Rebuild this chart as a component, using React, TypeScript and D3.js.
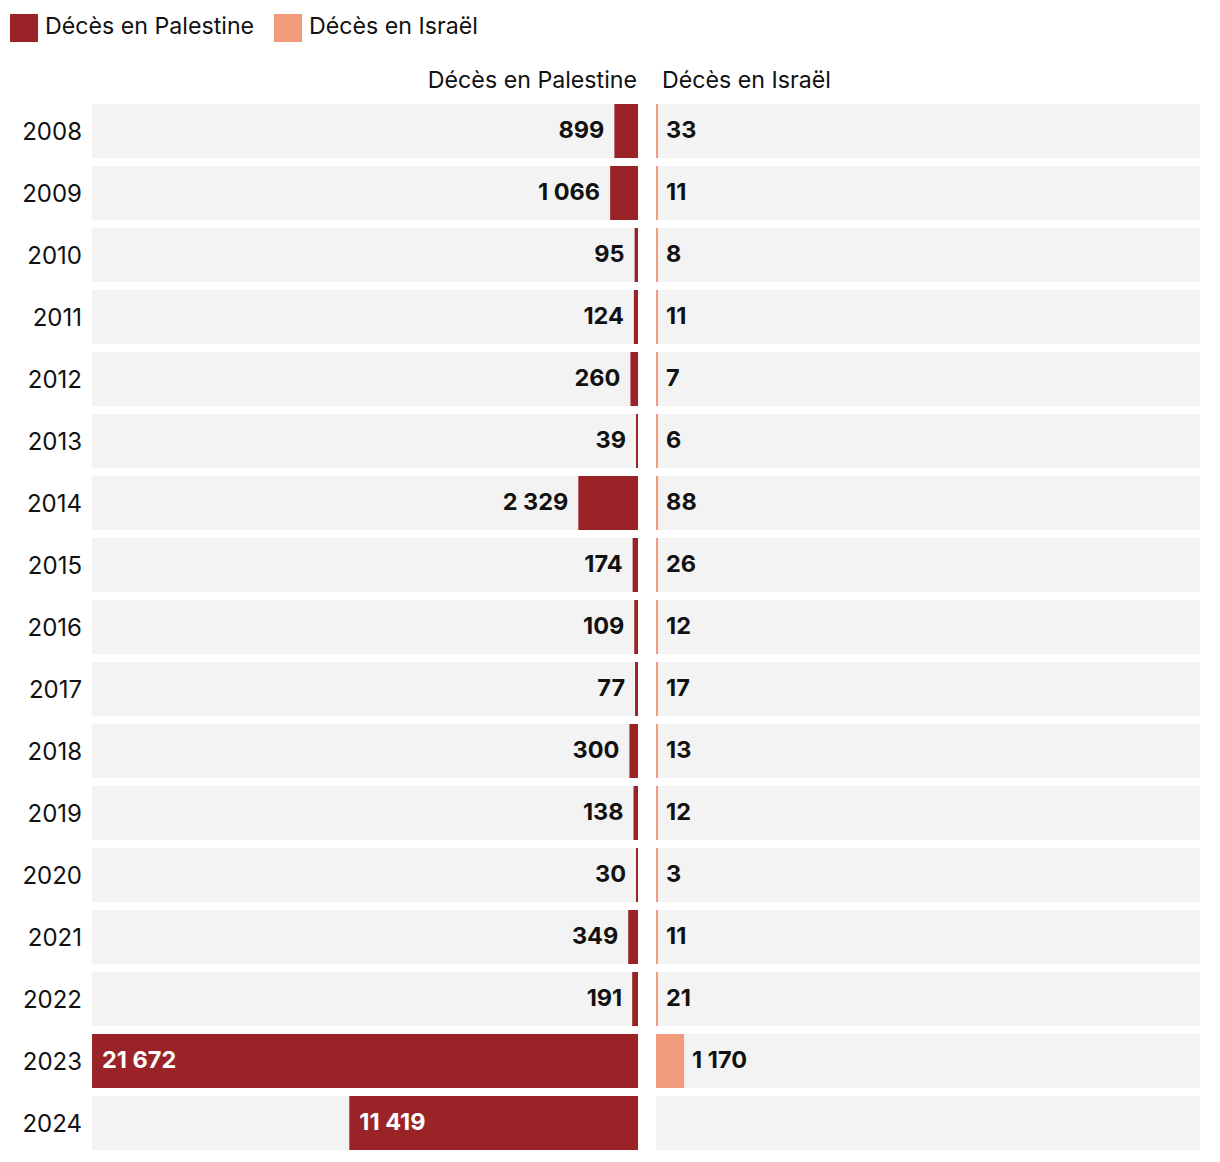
import React from "react";
import * as d3 from "d3";

const years = ["2008","2009","2010","2011","2012","2013","2014","2015","2016","2017","2018","2019","2020","2021","2022","2023","2024"];
const palestine = [899,1066,95,124,260,39,2329,174,109,77,300,138,30,349,191,21672,11419];
const israel: (number | null)[] = [33,11,8,11,7,6,88,26,12,17,13,12,3,11,21,1170,null];
const seriesNames = ["Décès en Palestine","Décès en Israël"];
const colors = ["#9A2328","#F29B7C"];

const W = 1220, H = 1162;
const leftX0 = 92, leftX1 = 638, rightX0 = 656, rightX1 = 1200;
const top = 104, rowH = 54, pitch = 62;
const font = "Inter, 'Noto Sans', sans-serif";

const loc2 = d3.formatLocale({ decimal: ",", thousands: " ", grouping: [3], currency: ["", "€"] });
const fmt = loc2.format(",d");

export default function App() {
  const y = d3.scaleBand<string>().domain(years)
    .range([top, top + pitch * years.length - (pitch - rowH)])
    .paddingInner((pitch - rowH) / pitch).paddingOuter(0);
  const maxV = d3.max(palestine) as number;
  const fullL = leftX1 - leftX0;
  const xl = d3.scaleLinear().domain([0, maxV]).range([0, fullL]);
  const xr = d3.scaleLinear().domain([0, maxV]).range([0, 520]);
  const bw = y.bandwidth();
  return (
    <svg width={W} height={H} style={{ display: "block", position: "absolute", left: 0, top: 0 }} fontFamily={font}>
      <rect width={W} height={H} fill="#fff" />
      <g>
        <rect x={10} y={14} width={28} height={28} fill={colors[0]} />
        <text x={45} y={34} fontSize={23.2} fill="#111">{seriesNames[0]}</text>
        <rect x={274} y={14} width={28} height={28} fill={colors[1]} />
        <text x={309} y={34} fontSize={23.2} fill="#111">{seriesNames[1]}</text>
      </g>
      <text x={637} y={88} fontSize={23.2} textAnchor="end" fill="#111">{seriesNames[0]}</text>
      <text x={662} y={88} fontSize={23.2} fill="#111">{seriesNames[1]}</text>
      {years.map((yr, i) => {
        const y0 = y(yr) as number;
        const pv = palestine[i];
        const pw = Math.min(fullL, Math.max(2, xl(pv) + 1));
        const inside = pw > 150;
        const iv = israel[i];
        const iw = iv == null ? 0 : Math.max(2, xr(iv));
        return (
          <g key={yr}>
            <text x={82} y={y0 + 36} fontSize={24} textAnchor="end" fill="#111">{yr}</text>
            <rect x={leftX0} y={y0} width={fullL} height={bw} fill="#F3F3F3" />
            <rect x={rightX0} y={y0} width={rightX1 - rightX0} height={bw} fill="#F3F3F3" />
            <rect x={leftX1 - pw} y={y0} width={pw} height={bw} fill={colors[0]} />
            {inside ? (
              <text x={leftX1 - pw + 10} y={y0 + 34} fontSize={23.5} fontWeight={700} fill="#fff">{fmt(pv)}</text>
            ) : (
              <text x={leftX1 - pw - 10} y={y0 + 34} fontSize={23.5} fontWeight={700} textAnchor="end" fill="#111">{fmt(pv)}</text>
            )}
            {iv != null && (
              <>
                <rect x={rightX0} y={y0} width={iw} height={bw} fill={colors[1]} />
                <text x={rightX0 + iw + 8} y={y0 + 34} fontSize={23.5} fontWeight={700} fill="#111">{fmt(iv)}</text>
              </>
            )}
          </g>
        );
      })}
    </svg>
  );
}
